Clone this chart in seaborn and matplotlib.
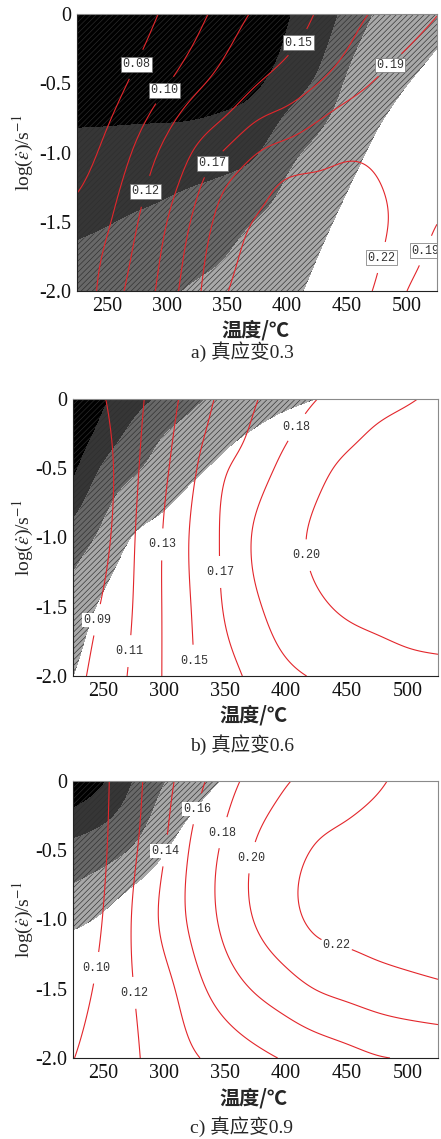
import numpy as np
import matplotlib
matplotlib.use("Agg")
import matplotlib.pyplot as plt
import seaborn as sns

# ---------------------------------------------------------------------------
# Processing-map data: power dissipation efficiency (eta) and instability
# parameter (xi) sampled on a temperature / log strain-rate grid.
# Rows run from log(rate) = 0 (top) downwards.
# ---------------------------------------------------------------------------
TEMPS = [225, 250, 275, 300, 325, 350, 375, 400, 425, 450, 475, 500, 525]

RATES_A = [0.0, -0.5, -1.0, -1.25, -1.5, -2.0]
ETA_A = [
    [0.048, 0.060, 0.0717, 0.0834, 0.0951, 0.109, 0.1239, 0.1378, 0.1513, 0.1626, 0.1728, 0.1812, 0.1895],
    [0.056, 0.0703, 0.0846, 0.0989, 0.1153, 0.1323, 0.1493, 0.1596, 0.1696, 0.1812, 0.1918, 0.198, 0.202],
    [0.068, 0.0855, 0.1036, 0.1278, 0.154, 0.1732, 0.1894, 0.200, 0.209, 0.2165, 0.215, 0.209, 0.203],
    [0.078, 0.0926, 0.1116, 0.1404, 0.167, 0.1907, 0.2086, 0.2245, 0.2265, 0.2268, 0.2215, 0.212, 0.204],
    [0.088, 0.098, 0.119, 0.150, 0.1756, 0.2029, 0.222, 0.228, 0.230, 0.230, 0.2245, 0.210, 0.191],
    [0.087, 0.1072, 0.1313, 0.1611, 0.1855, 0.219, 0.225, 0.228, 0.228, 0.224, 0.2175, 0.190, 0.175],
]
XI_A = [
    [-0.401, -0.412, -0.426, -0.447, -0.460, -0.454, -0.419, -0.310, -0.265, -0.170, -0.093, -0.057, -0.026],
    [-0.340, -0.343, -0.347, -0.353, -0.355, -0.344, -0.313, -0.2485, -0.186, -0.091, -0.038, -0.003, 0.024],
    [-0.2785, -0.2745, -0.2685, -0.260, -0.2495, -0.234, -0.206, -0.130, -0.0796, -0.034, 0.016, 0.051, 0.074],
    [-0.248, -0.240, -0.229, -0.213, -0.198, -0.182, -0.150, -0.090, -0.054, -0.006, 0.044, 0.078, 0.099],
    [-0.217, -0.2055, -0.189, -0.1775, -0.161, -0.1355, -0.097, -0.065, -0.029, 0.023, 0.071, 0.105, 0.124],
    [-0.156, -0.137, -0.125, -0.113, -0.088, -0.070, -0.043, -0.022, 0.022, 0.080, 0.125, 0.159, 0.174],
]
LEVELS_A = [0.08, 0.10, 0.12, 0.15, 0.17, 0.19, 0.22]

RATES_B = [0.0, -0.25, -0.5, -1.0, -1.5, -2.0]
ETA_B = [
    [0.073, 0.0888, 0.1044, 0.1214, 0.1395, 0.1557, 0.1692, 0.1747, 0.1798, 0.1859, 0.1920, 0.198, 0.2042],
    [0.069, 0.0852, 0.1052, 0.1241, 0.1436, 0.161, 0.1726, 0.1786, 0.1863, 0.1947, 0.2027, 0.2075, 0.2105],
    [0.065, 0.0824, 0.1062, 0.1268, 0.1483, 0.1684, 0.1758, 0.1834, 0.194, 0.204, 0.209, 0.212, 0.214],
    [0.060, 0.084, 0.109, 0.1314, 0.1542, 0.1726, 0.1811, 0.1924, 0.2029, 0.208, 0.212, 0.215, 0.217],
    [0.074, 0.0922, 0.1108, 0.1317, 0.1525, 0.1712, 0.1785, 0.1874, 0.1967, 0.2025, 0.206, 0.209, 0.211],
    [0.0835, 0.0982, 0.1136, 0.1315, 0.150, 0.1647, 0.1728, 0.1772, 0.1813, 0.185, 0.1887, 0.1925, 0.194],
]
XI_B = [
    [-0.40, -0.314, -0.243, -0.176, -0.115, -0.080, -0.054, -0.028, -0.002, 0.024, 0.05, 0.07, 0.09],
    [-0.374, -0.265, -0.172, -0.103, -0.065, -0.028, 0.009, 0.045, 0.075, 0.10, 0.12, 0.135, 0.145],
    [-0.324, -0.188, -0.115, -0.064, -0.020, 0.025, 0.07, 0.10, 0.13, 0.15, 0.17, 0.18, 0.19],
    [-0.158, -0.077, 0.003, 0.04, 0.09, 0.13, 0.16, 0.18, 0.19, 0.20, 0.20, 0.20, 0.20],
    [-0.065, 0.015, 0.07, 0.11, 0.14, 0.16, 0.18, 0.19, 0.20, 0.20, 0.20, 0.20, 0.20],
    [-0.003, 0.06, 0.10, 0.13, 0.15, 0.17, 0.18, 0.19, 0.20, 0.20, 0.20, 0.20, 0.20],
]
LEVELS_B = [0.09, 0.11, 0.13, 0.15, 0.17, 0.18, 0.20]

RATES_C = [0.0, -0.5, -1.0, -1.5, -2.0]
ETA_C = [
    [0.0788, 0.0966, 0.1145, 0.1337, 0.1531, 0.1723, 0.187, 0.1986, 0.2054, 0.2116, 0.2178, 0.224, 0.227],
    [0.0776, 0.0976, 0.1176, 0.1391, 0.1646, 0.1837, 0.2013, 0.2122, 0.2214, 0.225, 0.228, 0.230, 0.232],
    [0.080, 0.1008, 0.1218, 0.1443, 0.1656, 0.1847, 0.2011, 0.2134, 0.2235, 0.226, 0.229, 0.231, 0.233],
    [0.0906, 0.1053, 0.120, 0.1335, 0.1533, 0.1696, 0.1819, 0.1915, 0.2006, 0.2056, 0.210, 0.2135, 0.2165],
    [0.0995, 0.109, 0.118, 0.128, 0.1384, 0.1467, 0.1546, 0.1618, 0.1674, 0.173, 0.1787, 0.1809, 0.182],
]
XI_C = [
    [-0.40, -0.309, -0.196, -0.104, -0.047, 0.0075, 0.06, 0.10, 0.13, 0.15, 0.17, 0.18, 0.19],
    [-0.17, -0.14, -0.09, -0.01, 0.06, 0.11, 0.14, 0.16, 0.17, 0.18, 0.19, 0.20, 0.20],
    [-0.03, 0.015, 0.08, 0.12, 0.15, 0.17, 0.18, 0.19, 0.20, 0.20, 0.20, 0.20, 0.20],
    [0.15, 0.16, 0.17, 0.18, 0.19, 0.20, 0.20, 0.20, 0.20, 0.20, 0.20, 0.20, 0.20],
    [0.20, 0.20, 0.20, 0.20, 0.20, 0.20, 0.20, 0.20, 0.20, 0.20, 0.20, 0.20, 0.20],
]
LEVELS_C = [0.10, 0.12, 0.14, 0.16, 0.18, 0.20, 0.22]

CAPTIONS = ["a) 真应变0.3", "b) 真应变0.6", "c) 真应变0.9"]
X_TICKS = [250, 300, 350, 400, 450, 500]
Y_TICKS = [0.0, -0.5, -1.0, -1.5, -2.0]
Y_TICK_LABELS = ["0", "-0.5", "-1.0", "-1.5", "-2.0"]
X_LABEL = "温度/℃"
Y_LABEL = r"log($\dot{\varepsilon}$)/s$^{-1}$"

# instability bands: black -> dark -> mid -> light grey, stable domain white
XI_BANDS = [-1.0, -0.3, -0.2, -0.1, 0.0, 1.0]
BAND_COLORS = ["#000000", "#363636", "#686868", "#a8a8a8", "#ffffff"]
BAND_HATCH = ["//////", "//////", "//////", "//////", None]
HATCH_INK = "#2e2e2e"

# where each contour value is printed
LABEL_SPOTS = [
    [(276, -0.37), (298, -0.55), (282, -1.28), (405, -0.18), (338, -1.08),
     (486, -0.37), (475, -1.75), (513, -1.70)],
    [(248, -1.60), (271, -1.82), (298, -1.05), (323, -1.89), (342, -1.25),
     (408, -0.20), (416, -1.13)],
    [(245, -1.35), (275, -1.53), (299, -0.50), (327, -0.20), (347, -0.37),
     (370, -0.55), (442, -1.17)],
]


def spline_weights(nodes, query):
    """Natural cubic spline as a linear operator: values(query) = W @ values(nodes)."""
    nodes = np.asarray(nodes, float)
    query = np.asarray(query, float)
    n = len(nodes)
    h = np.diff(nodes)
    A = np.zeros((n, n))
    A[0, 0] = A[-1, -1] = 1.0
    B = np.zeros((n, n))
    for i in range(1, n - 1):
        A[i, i - 1] = h[i - 1]
        A[i, i] = 2 * (h[i - 1] + h[i])
        A[i, i + 1] = h[i]
        B[i, i + 1] += 6 / h[i]
        B[i, i] -= 6 / h[i] + 6 / h[i - 1]
        B[i, i - 1] += 6 / h[i - 1]
    M = np.linalg.solve(A, B)
    k = np.clip(np.searchsorted(nodes, query, side="right") - 1, 0, n - 2)
    hk = nodes[k + 1] - nodes[k]
    a = (nodes[k + 1] - query) / hk
    b = (query - nodes[k]) / hk
    W = np.zeros((len(query), n))
    idx = np.arange(len(query))
    W[idx, k] += a
    W[idx, k + 1] += b
    W += ((a ** 3 - a)[:, None] * M[k] + (b ** 3 - b)[:, None] * M[k + 1]) * (hk ** 2 / 6)[:, None]
    return W


T_FINE = np.linspace(225, 525, 301)
R_FINE = np.linspace(-2.0, 0.0, 241)
WT = spline_weights(TEMPS, T_FINE)


def smooth_field(rates, grid):
    r = np.asarray(rates, float)[::-1]
    g = np.asarray(grid, float)[::-1]
    return spline_weights(r, R_FINE) @ g @ WT.T


sns.set_style("white")
plt.rcParams["font.family"] = ["Liberation Serif", "Noto Sans CJK SC"]
plt.rcParams["mathtext.fontset"] = "stix"
plt.rcParams["axes.unicode_minus"] = False
plt.rcParams["patch.edgecolor"] = HATCH_INK
plt.rcParams["hatch.color"] = HATCH_INK
plt.rcParams["hatch.linewidth"] = 0.45

W_PX, H_PX = 441, 1139
fig = plt.figure(figsize=(W_PX / 100, H_PX / 100), dpi=100)


def px_axes(left, top, right, bottom):
    return fig.add_axes([left / W_PX, 1 - bottom / H_PX,
                         (right - left) / W_PX, (bottom - top) / H_PX])


panels = [
    (RATES_A, ETA_A, XI_A, LEVELS_A, (77, 14, 437, 291), True),
    (RATES_B, ETA_B, XI_B, LEVELS_B, (73, 399, 438, 676), False),
    (RATES_C, ETA_C, XI_C, LEVELS_C, (73, 781, 438, 1058), False),
]
xlabel_y = [330, 715, 1098]
caption_y = [352, 745, 1127]

for i, (rates, eta, xi, levels, box, boxed) in enumerate(panels):
    ax = px_axes(*box)
    TT, RR = np.meshgrid(T_FINE, R_FINE)
    xi_f = smooth_field(rates, xi)
    eta_f = smooth_field(rates, eta)

    cf = ax.contourf(TT, RR, np.clip(xi_f, -0.99, 0.99), levels=XI_BANDS,
                     colors=BAND_COLORS, hatches=BAND_HATCH)
    if hasattr(cf, "set_hatchcolor"):
        cf.set_hatchcolor(HATCH_INK)
    cs = ax.contour(TT, RR, eta_f, levels=levels, colors="#e3262b", linewidths=0.8)
    with plt.rc_context({"font.family": ["Liberation Mono"]}):
        texts = ax.clabel(cs, manual=LABEL_SPOTS[i], inline=True, fmt="%.2f",
                          fontsize=8.5, inline_spacing=2, colors="#333333")
    for t in texts:
        t.set_rotation(0)
        if boxed:
            t.set_bbox(dict(boxstyle="square,pad=0.12", fc="white", ec="#707070", lw=0.5))
        else:
            t.set_bbox(dict(boxstyle="square,pad=0.08", fc="white", ec="none"))

    ax.set_xlim(225, 525)
    ax.set_ylim(-2.0, 0.0)
    ax.set_xticks(X_TICKS)
    ax.set_yticks(Y_TICKS)
    ax.set_yticklabels(Y_TICK_LABELS)
    ax.tick_params(direction="in", length=3, width=0.6, labelsize=14.5,
                   pad=4, colors="#111111")
    for side, sp in ax.spines.items():
        sp.set_visible(True)
        sp.set_linewidth(0.8)
        sp.set_color("#222222" if side in ("left", "bottom") else "#8a8a8a")
    ax.set_xlabel("")
    ax.set_ylabel("")

    cx = (box[0] + box[2]) / 2
    cy = (box[1] + box[3]) / 2
    fig.text(23 / W_PX, 1 - cy / H_PX, Y_LABEL, rotation=90, ha="center",
             va="center", fontsize=14)
    fig.text((cx - 2) / W_PX, 1 - xlabel_y[i] / H_PX, X_LABEL, ha="center",
             va="center", fontsize=14.5, family=["Noto Sans CJK SC"],
             weight="bold")
    fig.text(242 / W_PX, 1 - caption_y[i] / H_PX, CAPTIONS[i], ha="center",
             va="center", fontsize=14,
             family=["Liberation Serif", "Noto Sans CJK SC"])

fig.savefig("out.png", dpi=100)
